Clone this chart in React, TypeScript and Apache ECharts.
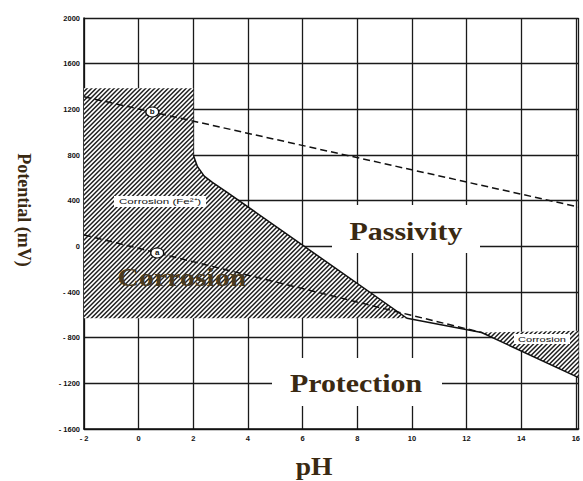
import React, { useEffect, useRef } from 'react';
import * as echarts from 'echarts';

// Axis ranges
const phMin = -2;
const phMax = 16.1;
const phStep = 2;
const mvMin = -1600;
const mvMax = 2000;
const mvStep = 400;

// Hatched corrosion regions (pH, mV)
const corrosionFe2Region: [number, number][] = [
  [-2, 1385], [2.0, 1385], [2.0, 800], [2.15, 700], [2.4, 615], [2.7, 560],
  [3.2, 480], [9.82, -630], [-2, -630],
];
const corrosionHFeO2Region: [number, number][] = [
  [12.55, -755], [16.1, -740], [16.1, -1150],
];

// Solid boundary line between passivity / corrosion / protection
const boundaryLine: [number, number][] = [
  [2.0, 800], [2.15, 700], [2.4, 615], [2.7, 560], [3.2, 480], [9.82, -630],
  [12.55, -755], [16.1, -1150],
];

// Dashed water-stability lines
const oxygenLine: [number, number][] = [[-2, 1310], [16.1, 345]];
const hydrogenLine: [number, number][] = [[-2, 100], [12.55, -755]];

// Circled line labels
const circleLabels = ['b', 'a'];
const circlePoints: [number, number][] = [[0.5, 1177], [0.68, -58]];

const brown = '#3a2912';
const serif = '"Liberation Serif", "Times New Roman", serif';
const sans = '"Liberation Sans", Arial, sans-serif';

function makeHatch() {
  const s = 9;
  const p = 4.5;
  const c = document.createElement('canvas');
  c.width = s;
  c.height = s;
  const ctx = c.getContext('2d')!;
  ctx.fillStyle = '#ffffff';
  ctx.fillRect(0, 0, s, s);
  ctx.strokeStyle = '#1e1e1e';
  ctx.lineWidth = 1.5;
  ctx.beginPath();
  for (let k = 0; k <= 4; k++) {
    const cc = k * p;
    ctx.moveTo(cc - s - 2, s + 2);
    ctx.lineTo(cc + 2, -2);
  }
  ctx.stroke();
  return { image: c, repeat: 'repeat', imageWidth: s, imageHeight: s };
}

const fmtNum = (v: number) => (v < 0 ? '- ' + Math.abs(v) : String(v));

export default function App() {
  const ref = useRef<HTMLDivElement>(null);
  useEffect(() => {
    if (!ref.current) return;
    const chart = echarts.init(ref.current, null, { renderer: 'svg' });
    const hatch = makeHatch();
    const regions = [corrosionFe2Region, corrosionHFeO2Region];

    const option: any = {
      animation: false,
      backgroundColor: '#ffffff',
      grid: { left: 84, right: 0, top: 18, bottom: 52 },
      xAxis: {
        type: 'value',
        min: phMin,
        max: phMax,
        interval: phStep,
        axisLine: { show: true, onZero: false, lineStyle: { color: '#111', width: 1.6 } },
        axisTick: { show: false },
        axisLabel: {
          margin: 5,
          fontSize: 7.5,
          fontWeight: 'bold',
          fontFamily: sans,
          color: '#111',
          formatter: (v: number) => {
            const r = Math.round(v);
            if (Math.abs(v - r) > 1e-6 || r % 2 !== 0) return '';
            return fmtNum(r);
          },
        },
        splitLine: { show: true, lineStyle: { color: '#1a1a1a', width: 1.3 } },
      },
      yAxis: {
        type: 'value',
        min: mvMin,
        max: mvMax,
        interval: mvStep,
        axisLine: { show: true, onZero: false, lineStyle: { color: '#111', width: 1.6 } },
        axisTick: { show: false },
        axisLabel: {
          margin: 4,
          fontSize: 7.5,
          fontWeight: 'bold',
          fontFamily: sans,
          color: '#111',
          formatter: (v: number) => fmtNum(v),
        },
        splitLine: { show: true, lineStyle: { color: '#1a1a1a', width: 1.3 } },
      },
      series: [
        {
          type: 'custom',
          z: 1,
          clip: true,
          data: regions.map((r) => [r[0][0], r[0][1]]),
          renderItem: (params: any, api: any) => {
            const poly = regions[params.dataIndex];
            const pts = poly.map((p) => api.coord(p));
            return {
              type: 'polygon',
              shape: { points: pts },
              style: { fill: hatch, stroke: null },
            };
          },
          silent: true,
        },
        {
          type: 'line',
          z: 3,
          data: boundaryLine,
          showSymbol: false,
          lineStyle: { color: '#111', width: 1.5 },
          silent: true,
        },
        {
          type: 'line',
          z: 3,
          data: oxygenLine,
          showSymbol: false,
          lineStyle: { color: '#111', width: 1.5, type: [7, 4] },
          silent: true,
        },
        {
          type: 'line',
          z: 3,
          data: hydrogenLine,
          showSymbol: false,
          lineStyle: { color: '#111', width: 1.5, type: [7, 4] },
          silent: true,
        },
        {
          type: 'scatter',
          z: 5,
          data: circlePoints.map((p, i) => ({ value: p, name: circleLabels[i] })),
          symbol: 'circle',
          symbolSize: [13, 10],
          itemStyle: { color: '#ffffff', borderColor: '#111', borderWidth: 1.2, opacity: 1 },
          label: {
            show: true,
            position: 'inside',
            formatter: (p: any) => p.name,
            fontSize: 8,
            fontWeight: 'bold',
            fontFamily: sans,
            color: '#111',
          },
          silent: true,
        },
      ],
      graphic: [
        // white label boxes
        { type: 'rect', z: 50, shape: { x: 332, y: 205, width: 148, height: 48 }, style: { fill: '#ffffff' } },
        { type: 'rect', z: 50, shape: { x: 272, y: 358, width: 170, height: 48 }, style: { fill: '#ffffff' } },
        { type: 'rect', z: 50, shape: { x: 114, y: 196, width: 92, height: 11 }, style: { fill: '#ffffff' } },
        { type: 'rect', z: 50, shape: { x: 514, y: 334, width: 56, height: 10 }, style: { fill: '#ffffff' } },
        {
          type: 'text', z: 60, x: 406, y: 231, scaleX: 1.15,
          style: { text: 'Passivity', fill: brown, font: `bold 26px ${serif}`, textAlign: 'center', textVerticalAlign: 'middle' },
        },
        {
          type: 'text', z: 60, x: 356, y: 383, scaleX: 1.15,
          style: { text: 'Protection', fill: brown, font: `bold 26px ${serif}`, textAlign: 'center', textVerticalAlign: 'middle' },
        },
        {
          type: 'text', z: 60, x: 182, y: 277, scaleX: 1.15,
          style: { text: 'Corrosion', fill: '#4a3a1e', font: `bold 26px ${serif}`, textAlign: 'center', textVerticalAlign: 'middle' },
        },
        {
          type: 'text', z: 60, x: 160, y: 201.5, scaleX: 1.45,
          style: { text: 'Corrosion (Fe²⁺)', fill: '#111', font: `8px ${sans}`, textAlign: 'center', textVerticalAlign: 'middle' },
        },
        {
          type: 'text', z: 60, x: 542, y: 339, scaleX: 1.38,
          style: { text: 'Corrosion', fill: '#111', font: `8px ${sans}`, textAlign: 'center', textVerticalAlign: 'middle' },
        },
        {
          type: 'text', z: 60, x: 24, y: 210, rotation: -Math.PI / 2,
          style: { text: 'Potential (mV)', fill: brown, font: `bold 18px ${serif}`, textAlign: 'center', textVerticalAlign: 'middle' },
        },
        {
          type: 'text', z: 60, x: 314, y: 467, scaleX: 1.1,
          style: { text: 'pH', fill: brown, font: `bold 25px ${serif}`, textAlign: 'center', textVerticalAlign: 'middle' },
        },
      ],
    };
    chart.setOption(option);
    return () => chart.dispose();
  }, []);
  return (
    <div
      ref={ref}
      style={{ position: 'fixed', left: 0, top: 0, width: 583, height: 481, background: '#fff' }}
    />
  );
}
